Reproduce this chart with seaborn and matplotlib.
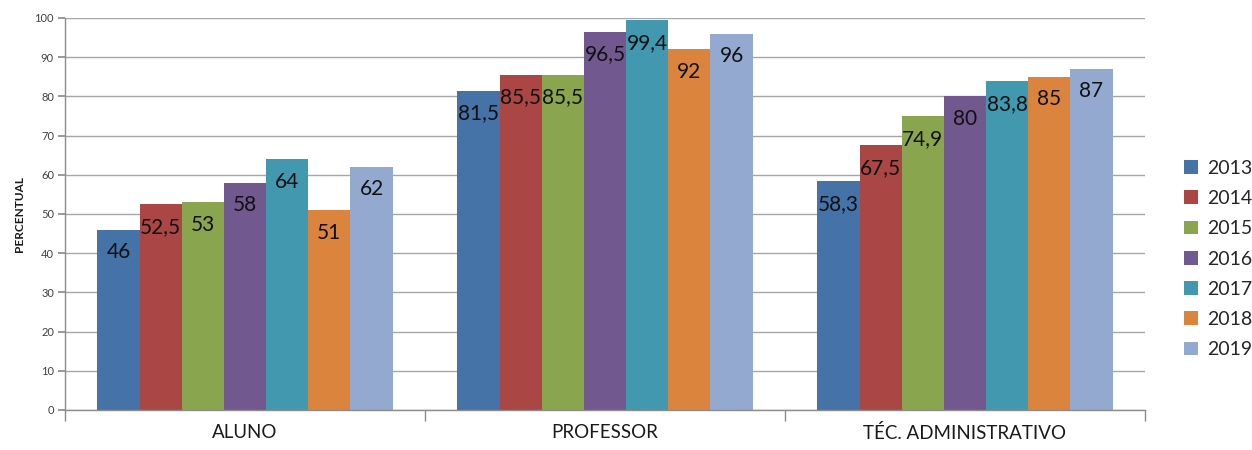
import matplotlib
matplotlib.use("Agg")
import matplotlib.pyplot as plt
import seaborn as sns
import pandas as pd

categories = ["ALUNO", "PROFESSOR", "TÉC. ADMINISTRATIVO"]
years = ["2013", "2014", "2015", "2016", "2017", "2018", "2019"]
v2013 = [46, 81.5, 58.3]
v2014 = [52.5, 85.5, 67.5]
v2015 = [53, 85.5, 74.9]
v2016 = [58, 96.5, 80]
v2017 = [64, 99.4, 83.8]
v2018 = [51, 92, 85]
v2019 = [62, 96, 87]
colors = ["#4572A7", "#AA4643", "#89A54E", "#71588F", "#4198AF", "#DB843D", "#93A9CF"]

series = [v2013, v2014, v2015, v2016, v2017, v2018, v2019]
rows = []
for year, vals in zip(years, series):
    for cat, v in zip(categories, vals):
        rows.append({"categoria": cat, "ano": year, "valor": v})
df = pd.DataFrame(rows)

sns.set_theme(style="white")
plt.rcParams["font.family"] = ["Lato", "DejaVu Sans"]

fig = plt.figure(figsize=(12.52, 4.5), dpi=100)
ax = fig.add_axes([0.052, 0.089, 0.8625, 0.871])

sns.barplot(data=df, x="categoria", y="valor", hue="ano", order=categories,
            hue_order=years, palette=colors, width=0.82, gap=0,
            saturation=1, edgecolor="none", linewidth=0, ax=ax, legend=True)

ax.set_ylim(0, 100)
ax.set_xlim(-0.5, 2.5)
ax.set_yticks(range(0, 101, 10))
ax.yaxis.grid(True, color="#a6a6a6", linewidth=1.0)
ax.set_axisbelow(True)

for spine in ["top", "right"]:
    ax.spines[spine].set_visible(False)
for spine in ["left", "bottom"]:
    ax.spines[spine].set_color("#8c8c8c")
    ax.spines[spine].set_linewidth(1.0)

ax.tick_params(axis="y", which="major", length=5, color="#8c8c8c", left=True,
               labelsize=8, labelcolor="#404040", pad=3)
ax.tick_params(axis="x", which="major", length=0, labelsize=13.5,
               labelcolor="#1a1a1a", pad=10)
ax.set_xticks([-0.5, 0.5, 1.5, 2.5], minor=True)
ax.tick_params(axis="x", which="minor", length=8, color="#8c8c8c", bottom=True)

ax.set_xlabel("")
ax.set_ylabel("PERCENTUAL", fontsize=8.5, fontweight="bold", color="#1a1a1a", labelpad=7)

for year, cont in zip(years, ax.containers):
    for bar in cont:
        h = bar.get_height()
        txt = f"{h:g}".replace(".", ",")
        ax.annotate(txt, (bar.get_x() + bar.get_width() / 2, h),
                    xytext=(0, -9), textcoords="offset points",
                    ha="center", va="top", fontsize=15, color="#111111")

handles, labels = ax.get_legend_handles_labels()
leg = ax.legend(handles, labels, loc="center left", bbox_to_anchor=(1.02, 0.385),
                frameon=False, fontsize=14, handlelength=0.7, handleheight=0.7,
                handletextpad=0.5, labelspacing=0.68)

fig.savefig("out.png", dpi=100)
